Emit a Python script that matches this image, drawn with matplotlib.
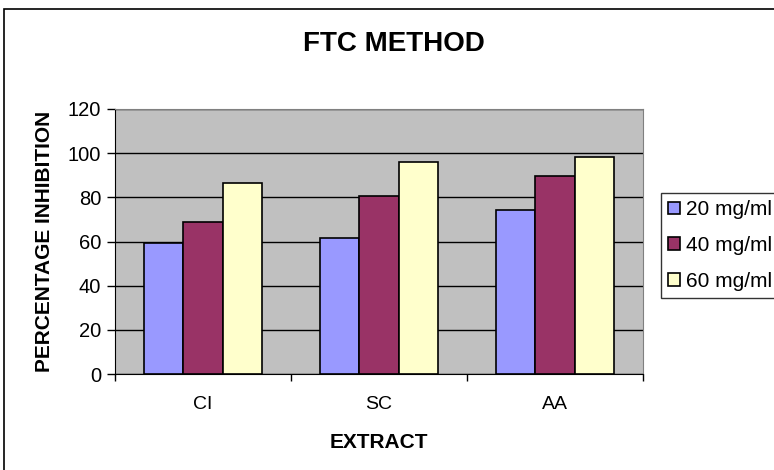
import numpy as np
import matplotlib.pyplot as plt
from matplotlib.patches import Rectangle

plt.rcParams['font.family'] = ['Liberation Sans', 'DejaVu Sans']

# data
extracts = ['CI', 'SC', 'AA']
conc_labels = ['20 mg/ml', '40 mg/ml', '60 mg/ml']
inh_20 = [59.5, 61.7, 74.2]
inh_40 = [68.9, 80.7, 89.5]
inh_60 = [86.6, 96.2, 98.4]
colors = ['#9999FF', '#993366', '#FFFFCC']

fig = plt.figure(figsize=(7.74, 4.70), dpi=100)
ax = fig.add_axes([115/774, 1-374/470, 528/774, 265/470])
ax.set_facecolor('#C0C0C0')

x = np.arange(len(extracts))
w = 1/4.5
series = [inh_20, inh_40, inh_60]
for i, vals in enumerate(series):
    ax.bar(x + (i-1)*w, vals, width=w, color=colors[i], edgecolor='black',
           linewidth=1.2, label=conc_labels[i], zorder=3)

ax.set_xlim(-0.5, 2.5)
ax.set_ylim(0, 120)
ax.set_yticks(range(0, 121, 20))
ax.yaxis.grid(True, color='black', linewidth=1, zorder=0)
ax.set_axisbelow(True)

ax.set_xticks(x)
ax.set_xticklabels(extracts, fontsize=14)
ax.set_xticks([-0.5, 0.5, 1.5, 2.5], minor=True)
ax.tick_params(axis='x', which='major', length=0, pad=16)
ax.tick_params(axis='x', which='minor', length=5, width=1, color='black')
ax.tick_params(axis='y', labelsize=14.5, length=6, width=1, pad=4)

for s in ['top', 'right']:
    ax.spines[s].set_color('#808080')
for s in ['left', 'bottom']:
    ax.spines[s].set_color('black')

ax.set_xlabel('EXTRACT', fontsize=15, fontweight='bold', labelpad=14)
ax.set_ylabel('PERCENTAGE INHIBITION', fontsize=15, fontweight='bold', labelpad=10)
fig.text(394/774, 1-44/470, 'FTC METHOD', fontsize=20,
         fontweight='bold', ha='center', va='center')

leg = fig.legend(loc='upper left', bbox_to_anchor=(661/774, 1-193/470),
                 fontsize=15, frameon=True, fancybox=False, edgecolor='black',
                 handlelength=0.55, handleheight=0.55, handletextpad=0.3,
                 labelspacing=0.8, borderaxespad=0, borderpad=0.35)
leg.get_frame().set_linewidth(1)

# outer chart border
fig.patches.append(Rectangle((4/774, -0.1), 1.2, 1 - 9/470 + 0.1,
                             transform=fig.transFigure, fill=False,
                             edgecolor='black', linewidth=1.2))

plt.savefig('out.png', dpi=100)
